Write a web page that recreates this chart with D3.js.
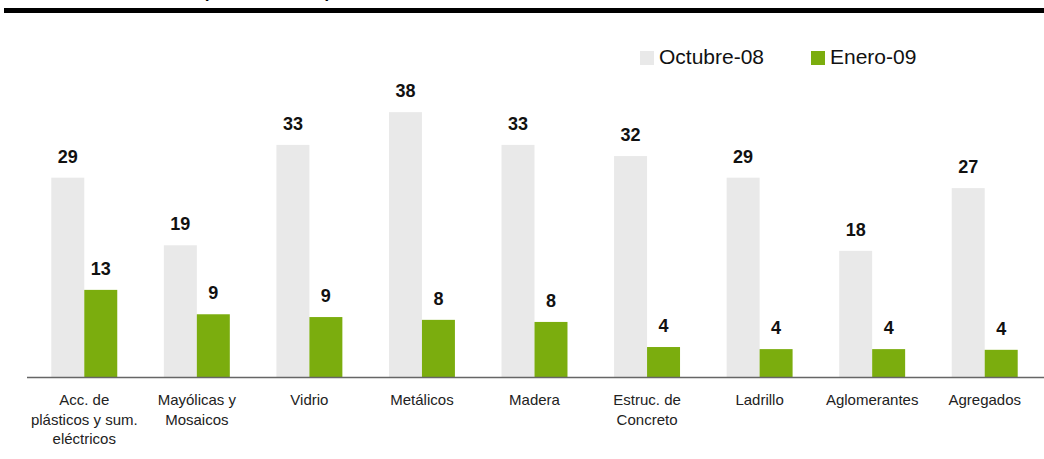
<!DOCTYPE html>
<html>
<head>
	<meta charset="utf-8">
	<title>Octubre-08 vs Enero-09</title>
	<script src="https://d3js.org/d3.v7.min.js"></script>
	<style>
		body { margin: 0; background: #fff; }
		svg { display: block; font-family: "Liberation Sans", Arial, sans-serif; }
		.cat text { font-size: 15px; fill: #222; }
		.val { font-size: 18px; font-weight: bold; fill: #111; text-anchor: middle; }
		.legend text { font-size: 21px; fill: #111; }
	</style>
</head>
<body>
	<div id="chart"></div>
	<script>
		// data
		var categories = ["Acc. de plásticos y sum. eléctricos", "Mayólicas y Mosaicos", "Vidrio", "Metálicos",
			"Madera", "Estruc. de Concreto", "Ladrillo", "Aglomerantes", "Agregados"];
		var catLines = [["Acc. de", "plásticos y sum.", "eléctricos"], ["Mayólicas y", "Mosaicos"], ["Vidrio"], ["Metálicos"],
			["Madera"], ["Estruc. de", "Concreto"], ["Ladrillo"], ["Aglomerantes"], ["Agregados"]];
		var seriesNames = ["Octubre-08", "Enero-09"];
		var octubre = [28.6, 18.9, 33.3, 38.0, 33.3, 31.7, 28.6, 18.1, 27.1];
		var enero = [12.5, 9.0, 8.6, 8.2, 7.9, 4.3, 4.0, 4.0, 3.9];
		var seriesColors = ["#e9e9e9", "#7bad0e"];

		var w = 1044, h = 459;
		var base = 377;

		var svg = d3.select("#chart").append("svg")
			.attr("width", w)
			.attr("height", h);

		// title (cut off at the top) and thick rule
		svg.append("text")
			.attr("x", 203).attr("y", -2)
			.attr("textLength", 128)
			.attr("lengthAdjust", "spacing")
			.style("font-size", "17px").style("font-weight", "bold")
			.text("(Variación en %)");
		svg.append("rect")
			.attr("x", 4).attr("y", 8)
			.attr("width", w - 4).attr("height", 5)
			.attr("fill", "#000");

		// scales
		var x = d3.scaleBand()
			.domain(categories)
			.range([28, 1041])
			.paddingInner(0.414)
			.paddingOuter(0.207);

		var xs = d3.scaleBand()
			.domain(seriesNames)
			.range([0, x.bandwidth()]);

		var y = d3.scaleLinear()
			.domain([0, 40])
			.range([base, base - 40 * 6.97]);

		var rows = categories.map(function(c, i) {
			return { cat: c, vals: [octubre[i], enero[i]] };
		});

		var groups = svg.selectAll("g.grp")
			.data(rows)
			.enter().append("g")
			.attr("class", "grp")
			.attr("transform", function(d) { return "translate(" + x(d.cat) + ",0)"; });

		groups.selectAll("rect")
			.data(function(d) { return d.vals; })
			.enter().append("rect")
			.attr("x", function(d, i) { return xs(seriesNames[i]); })
			.attr("y", function(d) { return y(d); })
			.attr("width", xs.bandwidth())
			.attr("height", function(d) { return base - y(d); })
			.attr("fill", function(d, i) { return seriesColors[i]; });

		groups.selectAll("text.val")
			.data(function(d) { return d.vals; })
			.enter().append("text")
			.attr("class", "val")
			.attr("x", function(d, i) { return xs(seriesNames[i]) + xs.bandwidth() / 2; })
			.attr("y", function(d) { return y(d) - 15; })
			.text(function(d) { return Math.round(d); });

		// x axis
		var xAxis = d3.axisBottom(x).tickSize(0).tickFormat("");
		var gx = svg.append("g")
			.attr("class", "cat")
			.attr("transform", "translate(0," + base + ")")
			.call(xAxis);
		gx.select(".domain").remove();
		gx.selectAll(".tick").each(function(d, i) {
			var t = d3.select(this).append("text")
				.attr("text-anchor", "middle")
				.attr("y", 28);
			catLines[i].forEach(function(line, k) {
				t.append("tspan").attr("x", 0).attr("dy", k === 0 ? 0 : 19.5).text(line);
			});
		});
		svg.append("line")
			.attr("x1", 27).attr("x2", w)
			.attr("y1", base + 0.5).attr("y2", base + 0.5)
			.attr("stroke", "#666").attr("stroke-width", 1.5);

		// legend
		var legendX = [640, 811];
		var lg = svg.append("g").attr("class", "legend");
		var items = lg.selectAll("g")
			.data(seriesNames)
			.enter().append("g")
			.attr("transform", function(d, i) { return "translate(" + legendX[i] + ",51)"; });
		items.append("rect")
			.attr("width", 14).attr("height", 14)
			.attr("fill", function(d, i) { return seriesColors[i]; });
		items.append("text")
			.attr("x", 19).attr("y", 13)
			.text(function(d) { return d; });
	</script>
</body>
</html>
